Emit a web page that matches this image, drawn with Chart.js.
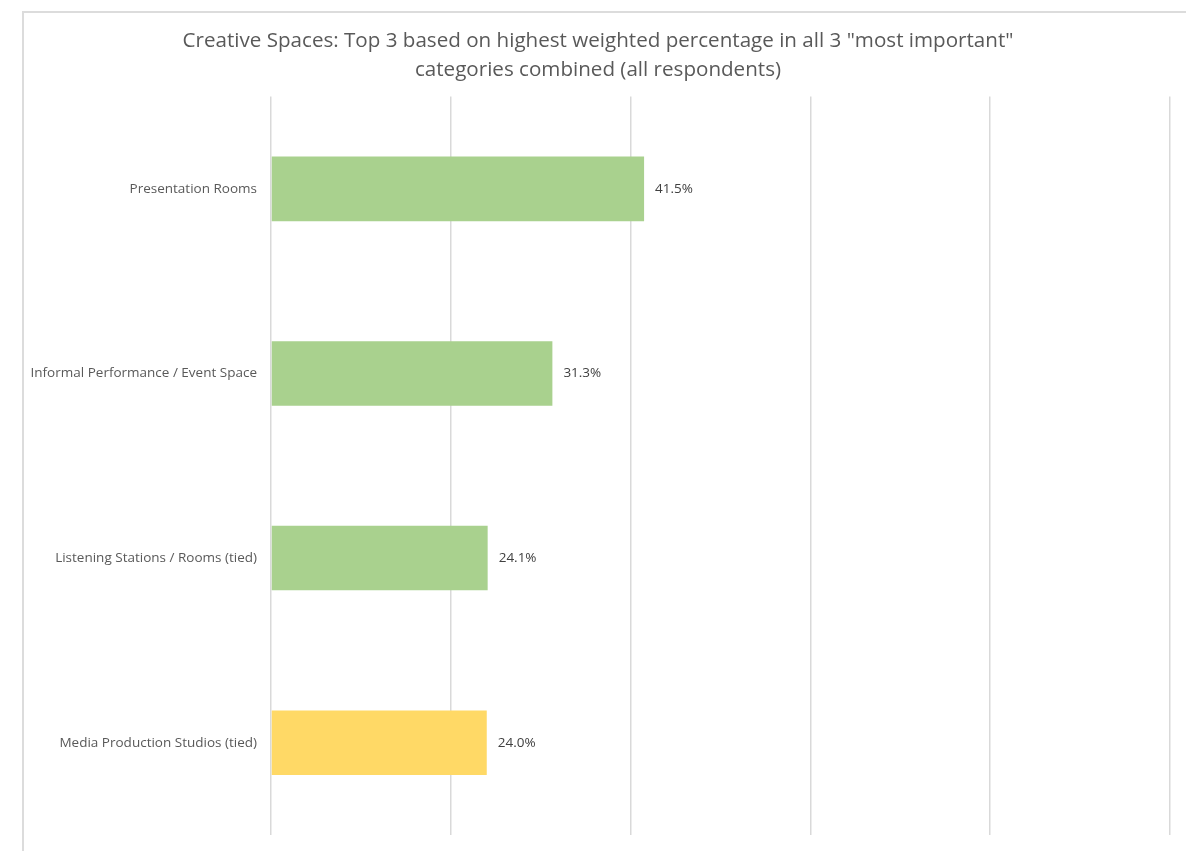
<!DOCTYPE html>
<html>
<head>
<meta charset="utf-8">
<script src="https://cdn.jsdelivr.net/npm/chart.js@4.4.0/dist/chart.umd.min.js"></script>
<style>
  html, body { margin: 0; padding: 0; background: #fff; overflow: hidden; }
  #frame {
    position: absolute; left: 22px; top: 11px;
    width: 1300px; height: 1000px;
    border: 2px solid #dcdcdc;
  }
  #wrap { position: absolute; left: 0; top: 0; width: 1186px; height: 851px; }
</style>
</head>
<body>
<div id="frame"></div>
<div id="wrap"><canvas id="spacesChart"></canvas></div>
<script>
const categories = [
    "Presentation Rooms",
    "Informal Performance / Event Space",
    "Listening Stations / Rooms (tied)",
    "Media Production Studios (tied)"
];
const percentages = [41.5, 31.3, 24.1, 24.0];
const barColors = ["#A9D18E", "#A9D18E", "#A9D18E", "#FFD966"];

const FONT = "'Open Sans', sans-serif";

// value labels to the right of each bar
const valueLabels = {
    id: 'valueLabels',
    afterDatasetsDraw(chart) {
        const ctx = chart.ctx;
        const meta = chart.getDatasetMeta(0);
        ctx.save();
        ctx.font = "13.5px " + FONT;
        ctx.fillStyle = "#404040";
        ctx.textAlign = "left";
        ctx.textBaseline = "middle";
        meta.data.forEach((bar, i) => {
            ctx.fillText(percentages[i].toFixed(1) + "%", bar.x + 11, bar.y);
        });
        ctx.restore();
    }
};

const ctx = document.getElementById('spacesChart');

new Chart(ctx, {
    type: 'bar',
    data: {
        labels: categories,
        datasets: [{
            data: percentages,
            backgroundColor: barColors,
            borderWidth: 0,
            barPercentage: 0.35,
            categoryPercentage: 1
        }]
    },
    options: {
        indexAxis: 'y',
        responsive: true,
        maintainAspectRatio: false,
        animation: false,
        layout: {
            padding: { left: 26, right: 16, top: 0, bottom: 16 }
        },
        plugins: {
            legend: { display: false },
            tooltip: { enabled: false },
            title: {
                display: true,
                text: [
                    'Creative Spaces: Top 3 based on highest weighted percentage in all 3 "most important"',
                    'categories combined (all respondents)'
                ],
                color: "#595959",
                font: { family: FONT, size: 20.6, weight: 'normal', lineHeight: 1.42 },
                padding: { top: 26, bottom: 12 }
            }
        },
        scales: {
            x: {
                min: 0,
                max: 100,
                ticks: { display: false, stepSize: 20 },
                grid: { color: "#d9d9d9", lineWidth: 1.5, drawTicks: false },
                border: { display: false },
                afterFit(scale) { scale.height = 0; }
            },
            y: {
                ticks: {
                    color: "#595959",
                    font: { family: FONT, size: 13.5 },
                    padding: 14
                },
                grid: { display: false, drawTicks: false },
                border: { display: false },
                afterFit(scale) {
                    scale.width = 245;
                    // keep the label padding from shrinking the plot vertically
                    scale.paddingTop = 0;
                    scale.paddingBottom = 0;
                }
            }
        }
    },
    plugins: [valueLabels]
});
</script>
</body>
</html>
